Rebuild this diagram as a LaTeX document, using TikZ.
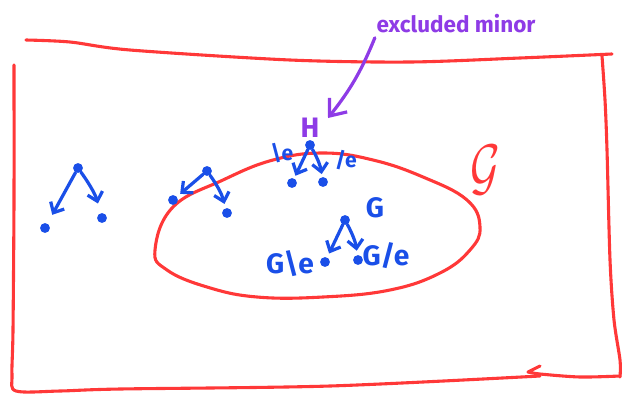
\documentclass[tikz,border=0pt]{standalone}
\usepackage{fontspec}
\setmainfont{Fira Sans}
\usetikzlibrary{arrows.meta}
\definecolor{inkred}{HTML}{FF3838}
\definecolor{inkblue}{HTML}{1A4FE8}
\definecolor{inkpurple}{HTML}{8E3BE6}

\begin{document}
\begin{tikzpicture}[x=0.025cm, y=-0.025cm,
  frame/.style={draw=inkred, line width=2.2pt, line cap=round, line join=round},
  dot/.style={circle, fill=inkblue, inner sep=0pt, minimum size=7pt},
  edge/.style={draw=inkblue, line width=2.3pt, line cap=round, -{Straight Barb[length=6pt,width=11pt]}},
  pointer/.style={draw=inkpurple, line width=2.3pt, line cap=round, -{Straight Barb[length=10pt,width=16pt]}},
  lbl/.style={text=inkblue, inner sep=0pt, font=\fontsize{20}{22}\selectfont\bfseries},
  elbl/.style={text=inkblue, inner sep=0pt, font=\fontsize{15}{17}\selectfont\bfseries},
]
\useasboundingbox (0,0) rectangle (622,395);
% ---------- the class: hand drawn box ----------
\draw[frame] plot[smooth] coordinates {(26,40) (70,42) (130,50) (290,60) (410,62) (520,58) (612,54)};
\draw[frame] plot[smooth] coordinates {(602,56) (605,100) (607,150) (610,260) (614,320) (620,360) (620,377)};
\draw[frame] plot[smooth] coordinates {(14,65) (14,200) (13,330) (12,375) (16,391) (60,391) (120,389) (330,386) (540,376)};
\draw[frame] plot[smooth] coordinates {(620,376) (580,377) (540,374) (528,372)} -- (540,366);
\node[text=inkred, font=\Huge] (calG) at (485,170) {\scalebox{1.3}[1.8]{$\mathcal{G}$}};
% ---------- the closed set ----------
\draw[frame] plot[smooth cycle, tension=0.7] coordinates {
  (155,250) (173,207) (223,180) (273,160) (323,153) (373,160) (423,177)
  (467,200) (480,227) (470,250) (440,273) (390,290) (323,297) (257,297)
  (207,287) (167,270)};
% ---------- graphs and their two minors ----------
\foreach \nm/\tx/\ty/\lx/\ly/\rx/\ry/\sh in {%
  one/78/168/45/228/102/218/7pt,
  two/207/171/173/200/227/213/3pt,
  hh/310/145/292/183/323/182/2pt,
  gg/345/220/325/262/358/260/3pt%
}{
  \node[dot] (\nm-top) at (\tx,\ty) {};
  \node[dot] (\nm-l) at (\lx,\ly) {};
  \node[dot] (\nm-r) at (\rx,\ry) {};
  \draw[edge, shorten >=\sh] (\nm-top) -- (\nm-l);
  \draw[edge, shorten >=\sh] (\nm-top) to[bend left=10] (\nm-r);
}
\node[lbl] (G) at (375,208) {G};
\node[lbl] (Gdel) at (290,264) {G\textbackslash e};
\node[lbl] (Gcon) at (386,256) {G/e};
\node[elbl] (Hdel) at (282,153) {\textbackslash e};
\node[elbl] (Hcon) at (346,160) {/e};
% ---------- excluded minor ----------
\node[text=inkpurple, inner sep=0pt, font=\fontsize{20}{22}\selectfont\bfseries] (H) at (310,128) {H};
\node[text=inkpurple, inner sep=0pt, font=\fontsize{16}{18}\selectfont\bfseries] (minor) at (456,24) {excluded minor};
\coordinate (ptip) at (328,118);
\draw[pointer] ([shift={(-1pt,-3pt)}]minor.south west) to[bend left=8] (ptip);
\end{tikzpicture}
\end{document}
